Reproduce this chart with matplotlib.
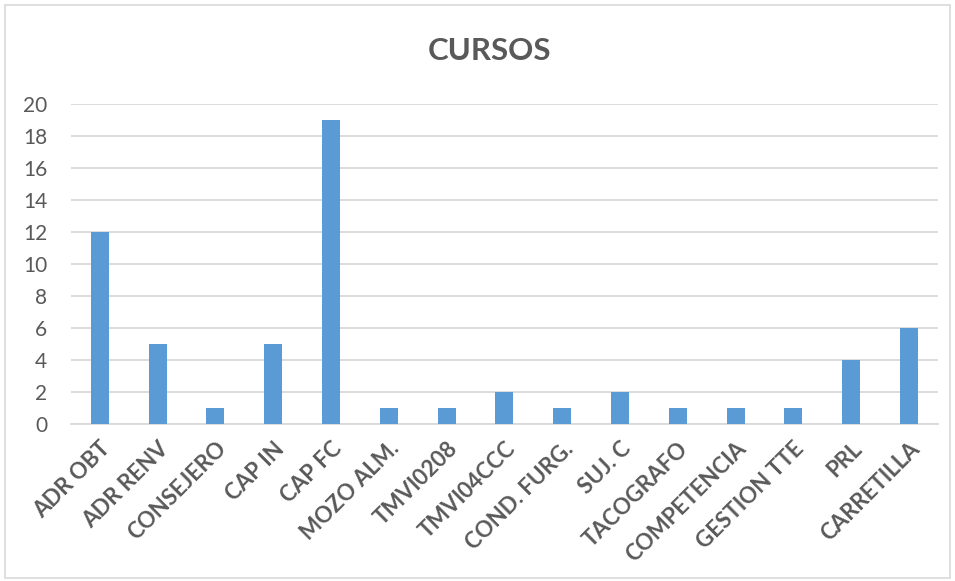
import matplotlib
matplotlib.use("Agg")
import matplotlib.pyplot as plt
from matplotlib.patches import Rectangle

categories = ["ADR OBT", "ADR RENV", "CONSEJERO", "CAP IN", "CAP FC", "MOZO ALM.",
              "TMVI0208", "TMVI04CCC", "COND. FURG.", "SUJ. C", "TACOGRAFO",
              "COMPETENCIA", "GESTION TTE", "PRL", "CARRETILLA"]
values = [12, 5, 1, 5, 19, 1, 1, 2, 1, 2, 1, 1, 1, 4, 6]
yticks = [0, 2, 4, 6, 8, 10, 12, 14, 16, 18, 20]

text_color = "#595959"
plt.rcParams["font.family"] = ["Lato", "DejaVu Sans"]

fig = plt.figure(figsize=(9.55, 5.81), dpi=100)
ax = fig.add_axes([0.0743, 0.270, 0.9077, 0.551])

ax.bar(range(len(categories)), values, width=0.31, color="#5B9BD5", zorder=3)

ax.set_xlim(-0.5, len(categories) - 0.5)
ax.set_ylim(0, 20)
ax.set_yticks(yticks)
ax.yaxis.grid(True, color="#D9D9D9", linewidth=1.3, zorder=0)
ax.set_axisbelow(True)
for side in ["top", "right", "left"]:
    ax.spines[side].set_visible(False)
ax.spines["bottom"].set_color("#D9D9D9")
ax.spines["bottom"].set_linewidth(1.3)
ax.tick_params(axis="both", length=0, colors=text_color)
ax.tick_params(axis="y", labelsize=15, pad=17)

ax.set_xticks(range(len(categories)))
ax.set_xticklabels(categories, rotation=45, ha="right", rotation_mode="anchor",
                   fontweight="bold", fontsize=16)
ax.tick_params(axis="x", pad=10)

fig.text(0.513, 0.913, "CURSOS", ha="center", va="center", fontsize=22.5,
         fontweight="bold", color=text_color)

fig.patches.append(Rectangle((0.005, 0.005), 0.99, 0.987, transform=fig.transFigure,
                             fill=False, edgecolor="#D9D9D9", linewidth=1.2))

fig.savefig("out.png", dpi=100)
